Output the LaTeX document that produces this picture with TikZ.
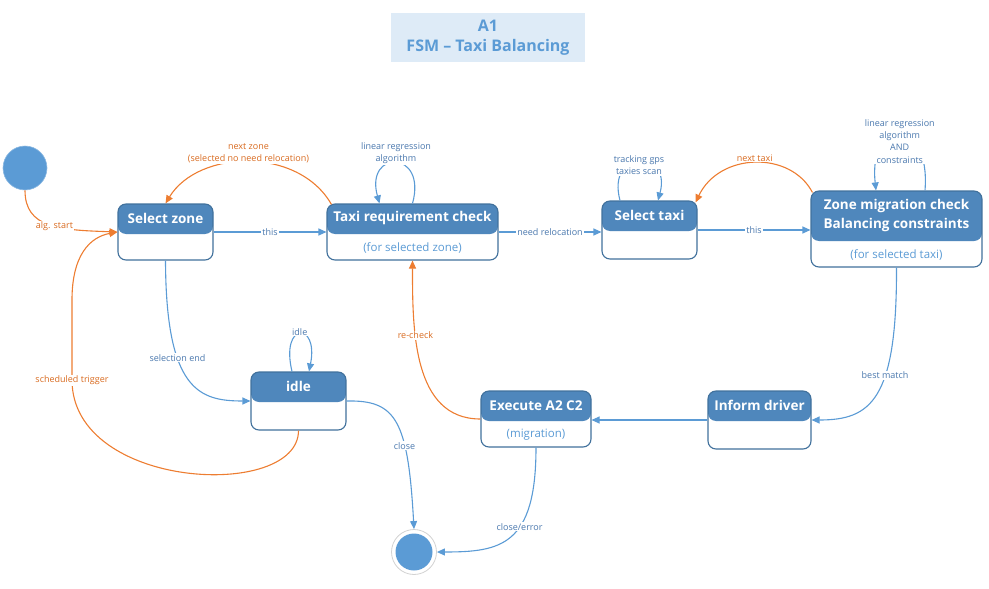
\documentclass[tikz,border=0pt]{standalone}
\usepackage{fontspec}
\setmainfont{Open Sans}
\usepackage{tikz}
\usetikzlibrary{arrows.meta,positioning}
\definecolor{stateblue}{HTML}{5B9BD5}
\definecolor{headblue}{HTML}{4F87BC}
\definecolor{boxline}{HTML}{41719C}
\definecolor{labelblue}{HTML}{4A78AE}
\definecolor{trigger}{HTML}{ED7D31}
\definecolor{triggertext}{HTML}{D96B20}
\definecolor{titlefill}{HTML}{DEEBF7}

\begin{document}
\begin{tikzpicture}[x=1pt, y=-1pt,
    >={Triangle[length=8pt,width=7pt]},
    state/.style={draw=boxline, line width=1.1pt, fill=white, rounded corners=8pt, inner sep=0pt},
    head/.style={path picture={\fill[headblue] (path picture bounding box.north west)
                 rectangle ([yshift=-#1]path picture bounding box.north east);}},
    headtxt/.style={text=white, font=\bfseries\fontsize{13.5}{18.5}\selectfont, align=center},
    subtxt/.style={text=stateblue, font=\fontsize{11.5}{13}\selectfont},
    lbl/.style={text=labelblue, fill=white, inner sep=1pt, font=\fontsize{9}{12.3}\selectfont, align=center},
    olbl/.style={lbl, text=triggertext},
    flow/.style={->, draw=stateblue, line width=1.1pt},
    back/.style={->, draw=trigger, line width=1.1pt},
    initstate/.style={circle, fill=stateblue, draw=stateblue!70!white, line width=0.6pt,
                      minimum size=44pt, inner sep=0pt},
    finalstate/.style={circle, draw=gray!35, line width=0.8pt, fill=white, minimum size=45pt, inner sep=0pt,
                       path picture={\fill[stateblue] (path picture bounding box.center) circle (18.5pt);}},
    title/.style={fill=titlefill, text=stateblue, font=\bfseries\fontsize{16}{20}\selectfont,
                  align=center, minimum width=194pt, minimum height=49pt}
]
    \useasboundingbox (0,0) rectangle (989,589);

    % title
    \node[title] (ttl) at (488,37.5) {A1\\FSM – Taxi Balancing};

    % states
    \node[initstate] (init) at (25,168) {};
    \node[state, head=30pt, minimum width=95pt, minimum height=56pt] (sz) at (165.5,232) {};
    \node[headtxt] (sz-t) at ([yshift=-15pt]sz.north) {Select zone};

    \node[state, head=30pt, minimum width=171pt, minimum height=56pt] (trc) at (412.5,232) {};
    \node[headtxt] (trc-t) at ([yshift=-15pt]trc.north) {Taxi requirement check};
    \node[subtxt] (trc-s) at ([yshift=13pt]trc.south) {(for selected zone)};

    \node[state, head=30pt, minimum width=95pt, minimum height=58pt] (st) at (649.5,230) {};
    \node[headtxt] (st-t) at ([yshift=-15pt]st.north) {Select taxi};

    \node[state, head=50pt, minimum width=171pt, minimum height=76pt] (zmc) at (896.5,229) {};
    \node[headtxt] (zmc-t) at ([yshift=-25pt]zmc.north) {Zone migration check\\Balancing constraints};
    \node[subtxt] (zmc-s) at ([yshift=13pt]zmc.south) {(for selected taxi)};

    \node[state, head=30pt, minimum width=95pt, minimum height=58pt] (idle) at (298.5,401) {};
    \node[headtxt] (idle-t) at ([yshift=-15pt]idle.north) {idle};

    \node[state, head=30pt, minimum width=110pt, minimum height=56pt] (exe) at (536,419) {};
    \node[headtxt] (exe-t) at ([yshift=-15pt]exe.north) {Execute A2 C2};
    \node[subtxt] (exe-s) at ([yshift=13pt]exe.south) {(migration)};

    \node[state, head=30pt, minimum width=103pt, minimum height=58pt] (inf) at (759.5,420) {};
    \node[headtxt] (inf-t) at ([yshift=-15pt]inf.north) {Inform driver};

    \node[finalstate] (fin) at (414,552) {};

    % forward transitions
    \draw[back] (init.south) .. controls +(0,38) and +(-58,-2) .. node[olbl, pos=.55] {alg. start} (sz.west);
    \draw[flow] (sz.east) -- node[lbl] {this} (trc.west);
    \draw[flow] (trc.east) -- node[lbl] {need relocation} (trc.east -| st.west);
    \draw[flow] (st.east) -- node[lbl] {this} (st.east -| zmc.west);
    \draw[flow] (zmc.south) .. controls +(0.5,133) and +(59,0) .. node[lbl, pos=.38] {best match} (inf.east);
    \draw[flow] (inf.west) -- (inf.west -| exe.east);
    \draw[flow] (sz.south) .. controls +(0.5,130) and +(-51,0) .. node[lbl, pos=.35] {selection end} (idle.west);
    \draw[flow] (idle.east) .. controls +(49,-1) and +(-6,-110) .. node[lbl, pos=.66] {close} (fin.north);
    \draw[flow] (exe.south) .. controls +(0,98) and +(64,0) .. node[lbl, pos=.4] {close/error} (fin.east);

    % self loops
    \draw[flow] (trc.north) .. controls +(15,-54) and +(-15,-54) ..
        node[lbl, yshift=10pt] {linear regression\\algorithm} ([xshift=-33pt]trc.north);
    \draw[flow] ([xshift=-29.5pt]st.north) .. controls +(-14,-52) and +(14,-52) ..
        node[lbl, yshift=-4pt] {tracking gps\\taxies scan} ([xshift=8.5pt]st.north);
    \draw[flow] ([xshift=28.5pt]zmc.north) .. controls +(6,-75) and +(-8,-75) ..
        node[lbl, yshift=-7pt] {linear regression\\algorithm\\AND\\constraints} ([xshift=-20.5pt]zmc.north);
    \draw[flow] ([xshift=-6.5pt]idle.north) .. controls +(-12,-50) and +(10,-50) ..
        node[lbl, yshift=2pt] {idle} ([xshift=10.5pt]idle.north);

    % back transitions
    \draw[back] ([xshift=5pt,yshift=-1pt]trc.north west) .. controls +(-33,-58) and +(33,-54) ..
        node[olbl, yshift=9pt] {next zone\\(selected no need relocation)} (sz.north);
    \draw[back] ([xshift=2pt,yshift=-2pt]zmc.north west) .. controls +(-22,-42) and +(24,-50) ..
        node[olbl, yshift=5pt] {next taxi} ([xshift=-2pt,yshift=-2pt]st.north east);
    \draw[back] (exe.west) .. controls +(-68,0) and +(0,68) .. node[olbl, pos=.65] {re-check} (trc.south);
    \draw[back] (idle.south) .. controls +(0,70) and (72,490) .. (72,380) node[olbl] {scheduled trigger}
        -- (72,300) .. controls (72,255) and (90,237) .. (sz.west);
\end{tikzpicture}
\end{document}
